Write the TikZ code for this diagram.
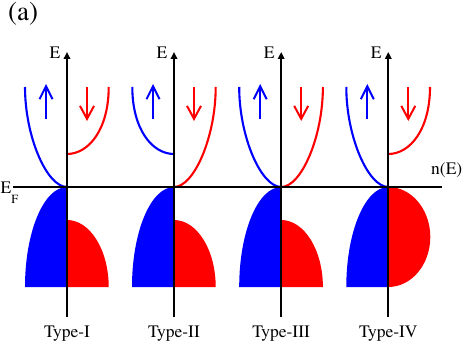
\documentclass[tikz,border=0pt]{standalone}
\usepackage{fontspec}
\setmainfont{texgyretermes-regular.otf}
\usetikzlibrary{arrows.meta}
\definecolor{pblue}{RGB}{0,0,255}
\definecolor{pred}{RGB}{255,0,0}
\begin{document}
\begin{tikzpicture}[x=1pt,y=-1pt,
  axisline/.style={line width=2pt,-{Triangle[length=7pt,width=6.5pt]}},
  efline/.style={line width=2.2pt},
  bluecurve/.style={pblue,line width=2.1pt},
  redcurve/.style={pred,line width=2.1pt},
  spinup/.style={pblue,line width=2pt,-{Straight Barb[length=13pt,width=13pt]}},
  spindown/.style={pred,line width=2pt,-{Straight Barb[length=13pt,width=14pt]}},
  dosblue/.style={fill=pblue},
  dosred/.style={fill=pred},
  lbl/.style={font=\rmfamily\fontsize{17.5}{18}\selectfont,inner sep=0pt},
  biglbl/.style={font=\rmfamily\fontsize{27}{28}\selectfont,inner sep=0pt}]
\useasboundingbox (0,0) rectangle (463,342);
% panels
\foreach \ax/\bc/\rc/\rf/\lab [count=\k] in {67/0/1/0/I, 174/1/0/0/II, 281.2/0/0/0/III, 388.3/0/1/1/IV} {
  % density of states
  \fill[dosblue] (\ax,187) arc[start angle=270,end angle=180,x radius=42,y radius=100] -- (\ax,287) -- cycle;
  \ifnum\rf=1
    \fill[dosred] (\ax,187) arc[start angle=270,end angle=450,x radius=42,y radius=50] -- cycle;
  \else
    \fill[dosred] (\ax,220) arc[start angle=270,end angle=360,x radius=41.7,y radius=67] -- (\ax,287) -- cycle;
  \fi
  % bands
  \ifnum\bc=1
    \draw[bluecurve] (\ax,154) .. controls (\ax-22,154) and (\ax-41.7,129) .. (\ax-41.7,87);
  \else
    \draw[bluecurve] (\ax,187) .. controls (\ax-20,187) and (\ax-42,137) .. (\ax-42,87);
  \fi
  \ifnum\rc=1
    \draw[redcurve] (\ax,154) .. controls (\ax+22,154) and (\ax+41.7,129) .. (\ax+41.7,87);
  \else
    \draw[redcurve] (\ax,187) .. controls (\ax+20,187) and (\ax+41.7,137) .. (\ax+41.7,87);
  \fi
  % spin arrows
  \coordinate (ub\k) at (\ax-21,119);
  \coordinate (ut\k) at (\ax-21,84);
  \coordinate (dt\k) at (\ax+20,87);
  \coordinate (db\k) at (\ax+20,121);
  \draw[spinup] (ub\k) -- (ut\k);
  \draw[spindown] (dt\k) -- (db\k);
  % axis
  \coordinate (ab\k) at (\ax,317);
  \coordinate (at\k) at (\ax,52);
  \draw[axisline] (ab\k) -- (at\k);
  \node[lbl,anchor=base east] (e\k) at (\ax-6.5,59) {E};
  \node[lbl,anchor=base] (type\k) at (\ax,337) {Type-\lab};
}
% Fermi level
\coordinate (efl) at (13,187);
\coordinate (efr) at (442,187);
\draw[efline] (efl) -- (efr);
\node[lbl,anchor=base west] (ef) at (0.5,193) {E\raisebox{-10.5pt}{\fontsize{12.5}{13}\selectfont F}};
\node[lbl,anchor=base east] (ne) at (462.5,175) {n(E)};
\node[biglbl,anchor=base west] (a) at (8,20.5) {(a)};
\end{tikzpicture}
\end{document}
